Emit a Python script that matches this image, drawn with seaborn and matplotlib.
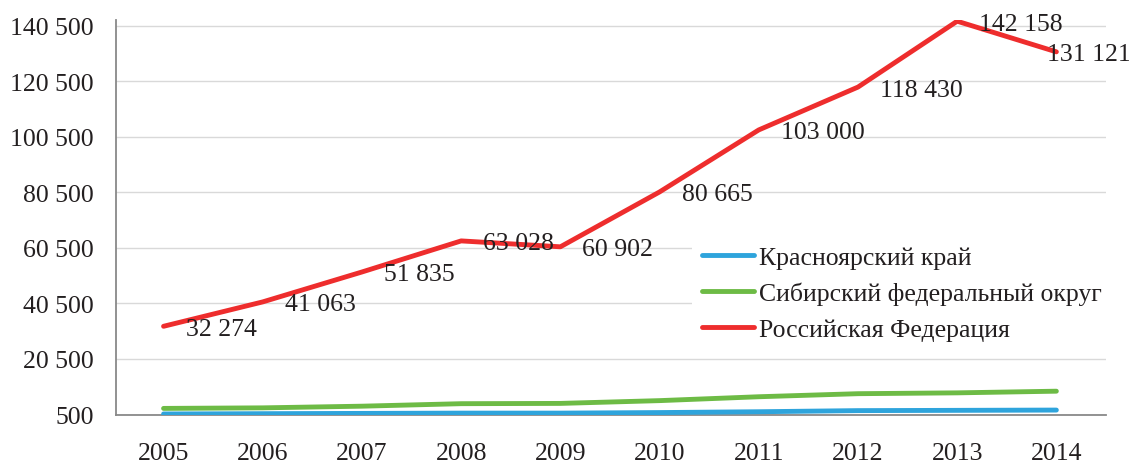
import matplotlib
matplotlib.use("Agg")
import matplotlib.pyplot as plt
import seaborn as sns
import pandas as pd

years = [2005, 2006, 2007, 2008, 2009, 2010, 2011, 2012, 2013, 2014]
krasnoyarsk = [700, 800, 900, 1000, 1000, 1200, 1500, 1900, 2000, 2100]
siberia = [2700, 2900, 3500, 4400, 4500, 5500, 6900, 8000, 8300, 8900]
russia = [32274, 41063, 51835, 63028, 60902, 80665, 103000, 118430, 142158, 131121]
series_names = ["Красноярский край", "Сибирский федеральный округ", "Российская Федерация"]
colors = ["#2EA4DC", "#6DBB45", "#EE2D2D"]
yticks = [500, 20500, 40500, 60500, 80500, 100500, 120500, 140500]
label_dx = [22, 22, 22, 22, 22, 22, 22, 22, 22, -9]

sns.set_theme(style="white")
plt.rcParams["font.family"] = ["Liberation Serif", "DejaVu Serif"]
FS = 18.5
TXT = "#231F20"

df = pd.DataFrame({
    "year": years * 3,
    "value": krasnoyarsk + siberia + russia,
    "series": [series_names[0]] * 10 + [series_names[1]] * 10 + [series_names[2]] * 10,
})

fig = plt.figure(figsize=(11.29, 4.64), dpi=100)
ax = fig.add_axes([0.1027, 0.1045, 0.9796 - 0.1027, 0.9554 - 0.1045])

sns.lineplot(data=df, x="year", y="value", hue="series", hue_order=series_names,
             palette=colors, linewidth=3.5, ax=ax, legend=True,
             solid_capstyle="round", solid_joinstyle="round", zorder=3)

def fmt(v):
    return f"{v:,}".replace(",", " ")

for x, v, dx in zip(years, russia, label_dx):
    ax.annotate(fmt(v), xy=(x, v), xytext=(dx, -2.5), textcoords="offset pixels",
                ha="left", va="center", fontsize=FS, color=TXT, zorder=5)

ax.set_xlim(2004.52, 2014.5)
ax.set_ylim(500, 142700)
ax.set_xticks(years)
ax.set_xticklabels([str(y) for y in years], fontsize=FS, color=TXT)
ax.set_yticks(yticks)
ax.set_yticklabels([fmt(t) for t in yticks], fontsize=FS, color=TXT)
ax.tick_params(axis="x", length=0, pad=20)
ax.tick_params(axis="y", length=0, pad=16)
ax.set_xlabel("")
ax.set_ylabel("")

ax.yaxis.grid(True, color="#D9D9D9", linewidth=1.0, zorder=0)
ax.xaxis.grid(False)
ax.set_axisbelow(True)
for s in ["top", "right"]:
    ax.spines[s].set_visible(False)
for s in ["left", "bottom"]:
    ax.spines[s].set_color("#898989")
    ax.spines[s].set_linewidth(1.3)
ax.spines["bottom"].set_zorder(2)

leg = ax.legend(loc="center left", bbox_to_anchor=(0.582, 0.306), borderaxespad=0,
                borderpad=0.4, fontsize=FS, handlelength=2.0, handletextpad=0.2,
                labelspacing=0.5, frameon=True, facecolor="white", edgecolor="none",
                framealpha=1.0, fancybox=False)
for line in leg.get_lines():
    line.set_linewidth(3.5)
    line.set_solid_capstyle("round")
for t in leg.get_texts():
    t.set_color(TXT)

fig.savefig("out.png", dpi=100)
